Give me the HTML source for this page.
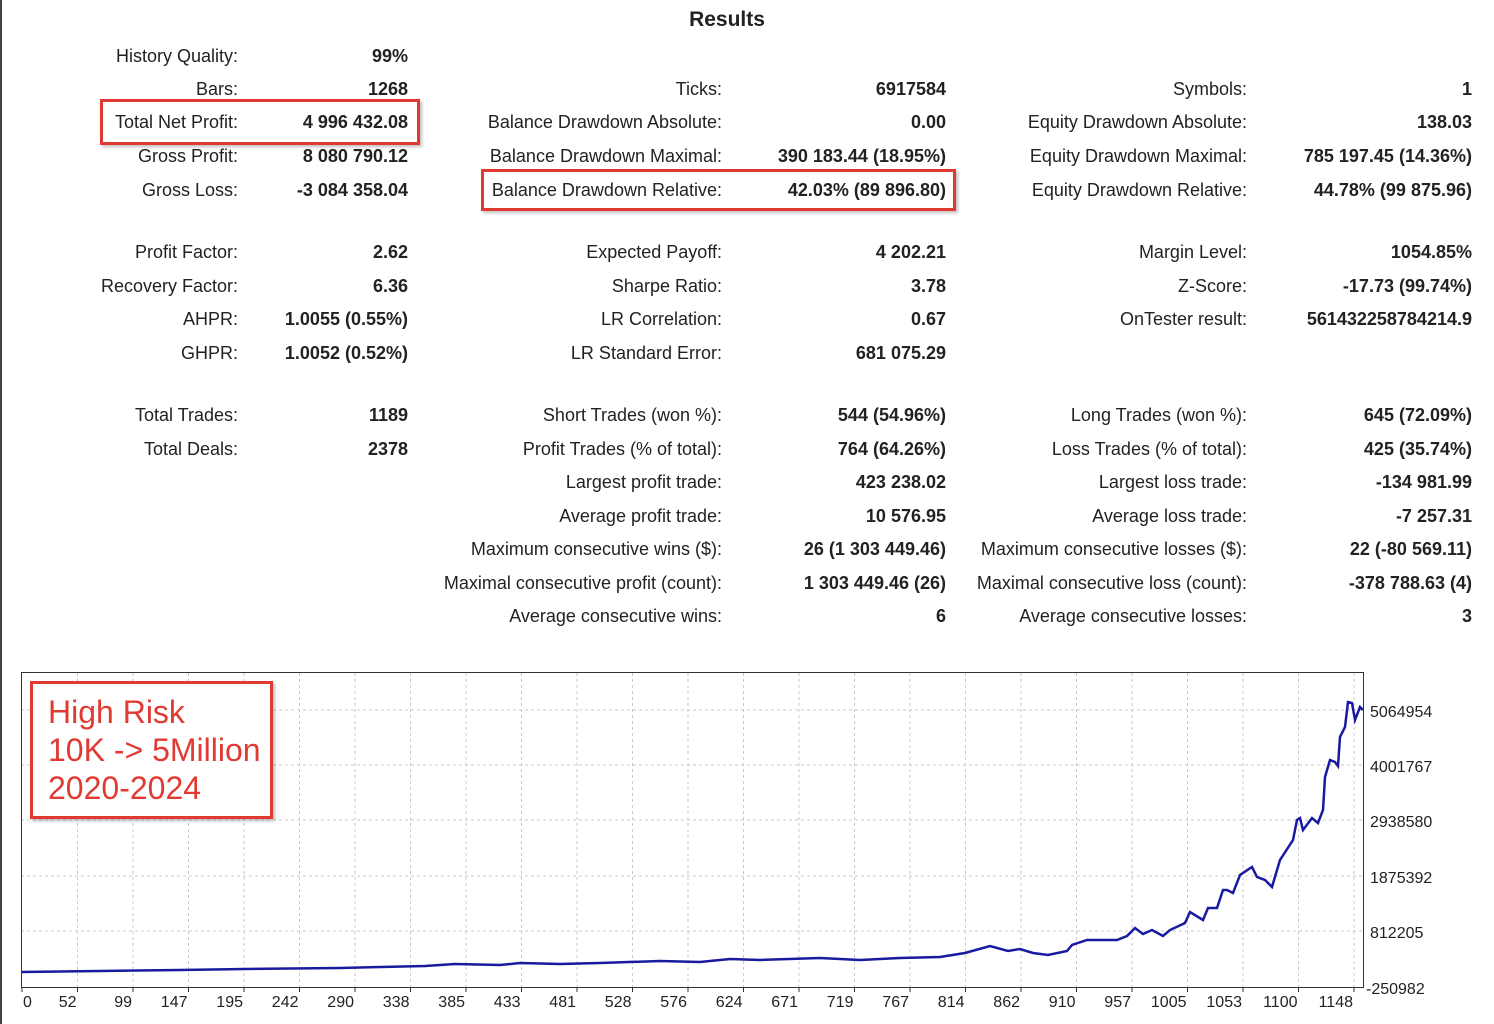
<!DOCTYPE html>
<html><head><meta charset="utf-8"><style>
body{margin:0;width:1494px;height:1024px;background:#fff;position:relative;overflow:hidden;font-family:"Liberation Sans",sans-serif;color:#222}
.l,.v{position:absolute;font-size:18px;white-space:nowrap;line-height:20px}
.l{text-align:right}
.v{text-align:right;font-weight:bold}
.box{position:absolute;border:3px solid #e03a32;box-shadow:2px 2px 3px rgba(0,0,0,.25)}
</style></head><body>
<div style="position:absolute;left:0;top:0;width:2px;height:1024px;background:#444"></div>
<div style="position:absolute;left:0;width:1454px;top:8px;text-align:center;font-weight:bold;font-size:21px">Results</div>
<div id="t"></div>
<div class="box" style="left:100px;top:99px;width:314px;height:40px"></div>
<div class="box" style="left:481px;top:169px;width:469px;height:36px"></div>
<svg style="position:absolute;left:0;top:0" width="1494" height="1024">
<g stroke="#c8c8c8" stroke-dasharray="3,3" stroke-width="1">
<line x1="21" x2="1363" y1="710" y2="710"/><line x1="21" x2="1363" y1="765" y2="765"/><line x1="21" x2="1363" y1="820" y2="820"/><line x1="21" x2="1363" y1="876" y2="876"/><line x1="21" x2="1363" y1="931" y2="931"/>
<g id="vg"></g>
</g>
<rect x="21.5" y="672.5" width="1342" height="315" fill="none" stroke="#333"/>
<polyline fill="none" stroke="#1a1aa0" stroke-width="2.5" points="21,972 100,971 180,970 245,969 340,968 380,967 425,966 455,964 500,965 520,963 560,964 600,963 660,961 700,962 730,959 760,960 820,958 860,960 900,958 940,957 965,953 990,946 1008,951 1020,949 1033,953 1048,955 1067,951 1072,945 1087,940 1117,940 1127,936 1135,928 1143,934 1152,930 1163,936 1170,930 1185,923 1190,912 1203,920 1208,908 1217,908 1223,890 1227,890 1233,893 1240,875 1252,867 1257,877 1265,880 1272,887 1280,860 1293,840 1297,820 1300,818 1303,830 1312,818 1318,823 1323,810 1325,777 1330,760 1335,762 1338,766 1340,737 1345,727 1348,702 1352,703 1355,720 1360,707 1363,710"/>
<g font-family="Liberation Sans,sans-serif" font-size="16" fill="#222" id="lab">
<text x="1370" y="717">5064954</text><text x="1370" y="772">4001767</text><text x="1370" y="827">2938580</text><text x="1370" y="883">1875392</text><text x="1370" y="938">812205</text><text x="1366" y="994">-250982</text>
</g>
</svg>
<div class="box" style="left:30px;top:681px;width:237px;height:132px;background:#fff"></div>
<div style="position:absolute;left:48px;top:693px;color:#e03a32;font-size:32px;line-height:38px">High Risk<br>10K -&gt; 5Million<br>2020-2024</div>
<script>
const rows=[
[56,["History Quality:","99%"],null,null],
[89,["Bars:","1268"],["Ticks:","6917584"],["Symbols:","1"]],
[122,["Total Net Profit:","4 996 432.08"],["Balance Drawdown Absolute:","0.00"],["Equity Drawdown Absolute:","138.03"]],
[156,["Gross Profit:","8 080 790.12"],["Balance Drawdown Maximal:","390 183.44 (18.95%)"],["Equity Drawdown Maximal:","785 197.45 (14.36%)"]],
[190,["Gross Loss:","-3 084 358.04"],["Balance Drawdown Relative:","42.03% (89 896.80)"],["Equity Drawdown Relative:","44.78% (99 875.96)"]],
[252,["Profit Factor:","2.62"],["Expected Payoff:","4 202.21"],["Margin Level:","1054.85%"]],
[286,["Recovery Factor:","6.36"],["Sharpe Ratio:","3.78"],["Z-Score:","-17.73 (99.74%)"]],
[319,["AHPR:","1.0055 (0.55%)"],["LR Correlation:","0.67"],["OnTester result:","561432258784214.9"]],
[353,["GHPR:","1.0052 (0.52%)"],["LR Standard Error:","681 075.29"],null],
[415,["Total Trades:","1189"],["Short Trades (won %):","544 (54.96%)"],["Long Trades (won %):","645 (72.09%)"]],
[449,["Total Deals:","2378"],["Profit Trades (% of total):","764 (64.26%)"],["Loss Trades (% of total):","425 (35.74%)"]],
[482,null,["Largest profit trade:","423 238.02"],["Largest loss trade:","-134 981.99"]],
[516,null,["Average profit trade:","10 576.95"],["Average loss trade:","-7 257.31"]],
[549,null,["Maximum consecutive wins ($):","26 (1 303 449.46)"],["Maximum consecutive losses ($):","22 (-80 569.11)"]],
[583,null,["Maximal consecutive profit (count):","1 303 449.46 (26)"],["Maximal consecutive loss (count):","-378 788.63 (4)"]],
[616,null,["Average consecutive wins:","6"],["Average consecutive losses:","3"]]];
const cols=[[238,408],[722,946],[1247,1472]];let h="";
rows.forEach(r=>{for(let i=0;i<3;i++){const c=r[i+1];if(!c)continue;
h+=`<div class="l" style="right:${1494-cols[i][0]}px;top:${r[0]-10}px">${c[0]}</div><div class="v" style="right:${1494-cols[i][1]}px;top:${r[0]-10}px">${c[1]}</div>`;}});
document.getElementById('t').innerHTML=h;
const xs=[0,52,99,147,195,242,290,338,385,433,481,528,576,624,671,719,767,814,862,910,957,1005,1053,1100,1148];
let vg="",lb="";xs.forEach((v,i)=>{const x=22+i*55.5;if(i>0)vg+=`<line x1="${x}" x2="${x}" y1="673" y2="987"/>`;
lb+=`<line x1="${x}" x2="${x}" y1="987" y2="992" stroke="#333"/><text x="${i==0?23:x-1}" y="1007" text-anchor="${i==0?'start':'end'}">${v}</text>`;});
document.getElementById('vg').innerHTML=vg;document.getElementById('lab').innerHTML+=lb;
</script>
</body></html>
